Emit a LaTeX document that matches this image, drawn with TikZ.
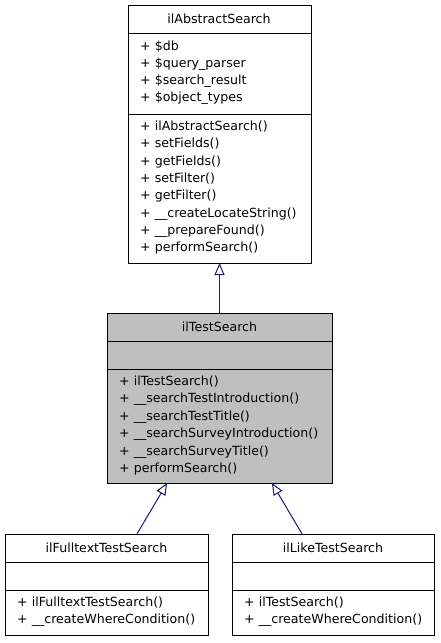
\documentclass[tikz,border=0pt]{standalone}
\usepackage{fontspec}
\setmainfont{DejaVu Sans}
\usetikzlibrary{arrows.meta,calc}
\definecolor{edgeblue}{RGB}{25,25,112}
\definecolor{boxgray}{RGB}{191,191,191}
\begin{document}
\begin{tikzpicture}[x=1pt,y=-1pt,
  cls/.style={draw=black, line width=1pt, anchor=north west, inner sep=0pt, outer sep=0pt},
  sep/.style={draw=black, line width=1pt},
  ttl/.style={font=\fontsize{12.6}{15}\selectfont, inner sep=0pt, anchor=base, yshift=-1pt},
  mem/.style={font=\fontsize{12.6}{15}\selectfont, inner sep=0pt, anchor=base west, yshift=-1pt},
  inh/.style={draw=edgeblue, line width=1pt, -{Triangle[open, length=12pt, width=10pt, fill=white]}}]
\useasboundingbox (0,0) rectangle (440,643);
% ilAbstractSearch
\node[cls, fill=white, minimum width=183pt, minimum height=258pt] (as) at (128,5) {};
\draw[sep] (as.west |- 0,33.5) -- (as.east |- 0,33.5);
\draw[sep] (as.west |- 0,114) -- (as.east |- 0,114);
\node[ttl] (ast) at (219,22.5) {ilAbstractSearch};
\node[mem] (asa1) at (140,49) {+ \$db};
\node[mem] (asa2) at (140,66.3) {+ \$query\_parser};
\node[mem] (asa3) at (140,83.6) {+ \$search\_result};
\node[mem] (asa4) at (140,100.9) {+ \$object\_types};
\node[mem] (asm1) at (140,129.5) {+ ilAbstractSearch()};
\node[mem] (asm2) at (140,146.8) {+ setFields()};
\node[mem] (asm3) at (140,164.1) {+ getFields()};
\node[mem] (asm4) at (140,181.4) {+ setFilter()};
\node[mem] (asm5) at (140,198.7) {+ getFilter()};
\node[mem] (asm6) at (140,216.0) {+ \_\_createLocateString()};
\node[mem] (asm7) at (140,233.3) {+ \_\_prepareFound()};
\node[mem] (asm8) at (140,250.6) {+ performSearch()};
% ilTestSearch
\node[cls, fill=boxgray, minimum width=225pt, minimum height=170pt] (ts) at (107,313) {};
\draw[sep] (ts.west |- 0,341) -- (ts.east |- 0,341);
\draw[sep] (ts.west |- 0,369) -- (ts.east |- 0,369);
\node[ttl] (tst) at (219.5,330.5) {ilTestSearch};
\node[mem] (tsm1) at (119,384.5) {+ ilTestSearch()};
\node[mem] (tsm2) at (119,401.9) {+ \_\_searchTestIntroduction()};
\node[mem] (tsm3) at (119,419.3) {+ \_\_searchTestTitle()};
\node[mem] (tsm4) at (119,436.7) {+ \_\_searchSurveyIntroduction()};
\node[mem] (tsm5) at (119,454.1) {+ \_\_searchSurveyTitle()};
\node[mem] (tsm6) at (119,471.5) {+ performSearch()};
% ilFulltextTestSearch
\node[cls, fill=white, minimum width=203pt, minimum height=101pt] (fts) at (5,534) {};
\draw[sep] (fts.west |- 0,562) -- (fts.east |- 0,562);
\draw[sep] (fts.west |- 0,590) -- (fts.east |- 0,590);
\node[ttl] (ftst) at (106.5,551.5) {ilFulltextTestSearch};
\node[mem] (ftsm1) at (17,605.5) {+ ilFulltextTestSearch()};
\node[mem] (ftsm2) at (17,622.8) {+ \_\_createWhereCondition()};
% ilLikeTestSearch
\node[cls, fill=white, minimum width=202pt, minimum height=101pt] (lts) at (232,534) {};
\draw[sep] (lts.west |- 0,562) -- (lts.east |- 0,562);
\draw[sep] (lts.west |- 0,590) -- (lts.east |- 0,590);
\node[ttl] (ltst) at (333,551.5) {ilLikeTestSearch};
\node[mem] (ltsm1) at (244,605.5) {+ ilTestSearch()};
\node[mem] (ltsm2) at (244,622.8) {+ \_\_createWhereCondition()};
% inheritance
\draw[inh] (ts.north) -- (as.south);
\draw[inh] ($(fts.north west)!0.65!(fts.north east)$) -- ($(ts.south west)!0.267!(ts.south east)$);
\draw[inh] ($(lts.north west)!0.347!(lts.north east)$) -- ($(ts.south west)!0.733!(ts.south east)$);
\end{tikzpicture}
\end{document}
